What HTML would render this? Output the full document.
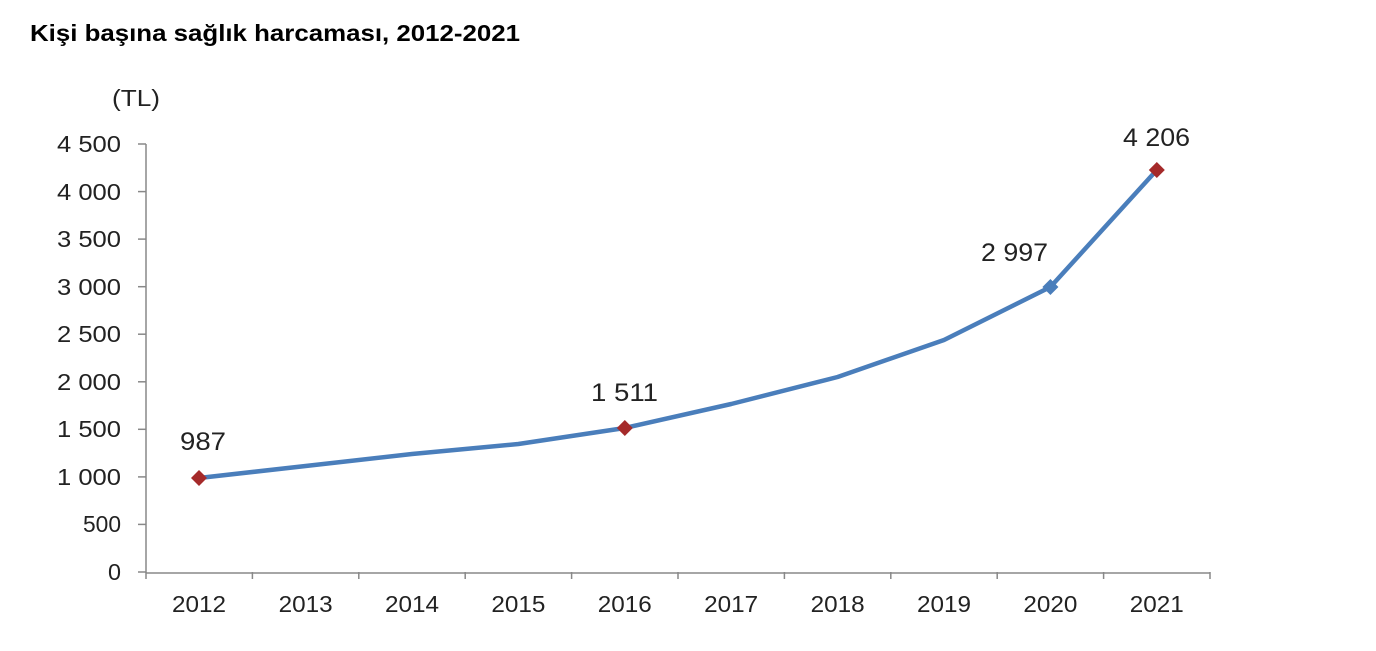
<!DOCTYPE html>
<html><head><meta charset="utf-8"><style>
html,body{margin:0;padding:0;background:#fff;}
svg text{font-family:"Liberation Sans",Arial,sans-serif;}
</style></head><body>
<svg width="1376" height="646" viewBox="0 0 1376 646" xmlns="http://www.w3.org/2000/svg">
<text x="30" y="41" font-size="23" font-weight="bold" fill="#000" textLength="490" lengthAdjust="spacingAndGlyphs">Kişi başına sağlık harcaması, 2012-2021</text>
<text x="112" y="106" font-size="23" fill="#222" textLength="48" lengthAdjust="spacingAndGlyphs">(TL)</text>
<g stroke="#888" stroke-width="1.5" fill="none">
<line x1="146" y1="144" x2="146" y2="573"/>
<line x1="146" y1="573" x2="1210" y2="573"/>
<line x1="138" y1="144" x2="146" y2="144"/>
<line x1="138" y1="191.6" x2="146" y2="191.6"/>
<line x1="138" y1="239.1" x2="146" y2="239.1"/>
<line x1="138" y1="286.7" x2="146" y2="286.7"/>
<line x1="138" y1="334.2" x2="146" y2="334.2"/>
<line x1="138" y1="381.8" x2="146" y2="381.8"/>
<line x1="138" y1="429.3" x2="146" y2="429.3"/>
<line x1="138" y1="476.9" x2="146" y2="476.9"/>
<line x1="138" y1="524.4" x2="146" y2="524.4"/>
<line x1="138" y1="572" x2="146" y2="572"/>
<line x1="146" y1="572" x2="146" y2="579"/>
<line x1="252.4" y1="572" x2="252.4" y2="579"/>
<line x1="358.8" y1="572" x2="358.8" y2="579"/>
<line x1="465.2" y1="572" x2="465.2" y2="579"/>
<line x1="571.6" y1="572" x2="571.6" y2="579"/>
<line x1="678" y1="572" x2="678" y2="579"/>
<line x1="784.4" y1="572" x2="784.4" y2="579"/>
<line x1="890.8" y1="572" x2="890.8" y2="579"/>
<line x1="997.2" y1="572" x2="997.2" y2="579"/>
<line x1="1103.6" y1="572" x2="1103.6" y2="579"/>
<line x1="1210" y1="572" x2="1210" y2="579"/>
</g>
<g font-size="23" fill="#222">
<text x="57" y="152" textLength="64" lengthAdjust="spacingAndGlyphs">4 500</text>
<text x="57" y="200" textLength="64" lengthAdjust="spacingAndGlyphs">4 000</text>
<text x="57" y="247" textLength="64" lengthAdjust="spacingAndGlyphs">3 500</text>
<text x="57" y="295" textLength="64" lengthAdjust="spacingAndGlyphs">3 000</text>
<text x="57" y="342" textLength="64" lengthAdjust="spacingAndGlyphs">2 500</text>
<text x="57" y="390" textLength="64" lengthAdjust="spacingAndGlyphs">2 000</text>
<text x="57" y="437" textLength="64" lengthAdjust="spacingAndGlyphs">1 500</text>
<text x="57" y="485" textLength="64" lengthAdjust="spacingAndGlyphs">1 000</text>
<text x="83" y="532" textLength="38" lengthAdjust="spacingAndGlyphs">500</text>
<text x="108" y="580" textLength="13" lengthAdjust="spacingAndGlyphs">0</text>
</g>
<g font-size="23" fill="#222">
<text x="172" y="612" textLength="54" lengthAdjust="spacingAndGlyphs">2012</text>
<text x="278.6" y="612" textLength="54" lengthAdjust="spacingAndGlyphs">2013</text>
<text x="385" y="612" textLength="54" lengthAdjust="spacingAndGlyphs">2014</text>
<text x="491.4" y="612" textLength="54" lengthAdjust="spacingAndGlyphs">2015</text>
<text x="597.8" y="612" textLength="54" lengthAdjust="spacingAndGlyphs">2016</text>
<text x="704.2" y="612" textLength="54" lengthAdjust="spacingAndGlyphs">2017</text>
<text x="810.6" y="612" textLength="54" lengthAdjust="spacingAndGlyphs">2018</text>
<text x="917" y="612" textLength="54" lengthAdjust="spacingAndGlyphs">2019</text>
<text x="1023.4" y="612" textLength="54" lengthAdjust="spacingAndGlyphs">2020</text>
<text x="1129.8" y="612" textLength="54" lengthAdjust="spacingAndGlyphs">2021</text>
</g>
<polyline fill="none" stroke="#4a7ebb" stroke-width="4.5" stroke-linejoin="round" points="199,478 305.6,466 412,454 518.4,444 624.8,428 731.2,404 837.6,377 944,340 1050.4,287 1156.8,170"/>
<g fill="#a52a2a">
<polygon points="199,470 207,478 199,486 191,478"/>
<polygon points="624.8,420 632.8,428 624.8,436 616.8,428"/>
<polygon points="1156.8,162 1164.8,170 1156.8,178 1148.8,170"/>
</g>
<polygon fill="#4a7ebb" points="1050.4,279 1058.4,287 1050.4,295 1042.4,287"/>
<g font-size="25" fill="#222">
<text x="180" y="450" textLength="46" lengthAdjust="spacingAndGlyphs">987</text>
<text x="591" y="401" textLength="67" lengthAdjust="spacingAndGlyphs">1 511</text>
<text x="981" y="261" textLength="67" lengthAdjust="spacingAndGlyphs">2 997</text>
<text x="1123" y="146" textLength="67" lengthAdjust="spacingAndGlyphs">4 206</text>
</g>
</svg>
</body></html>
